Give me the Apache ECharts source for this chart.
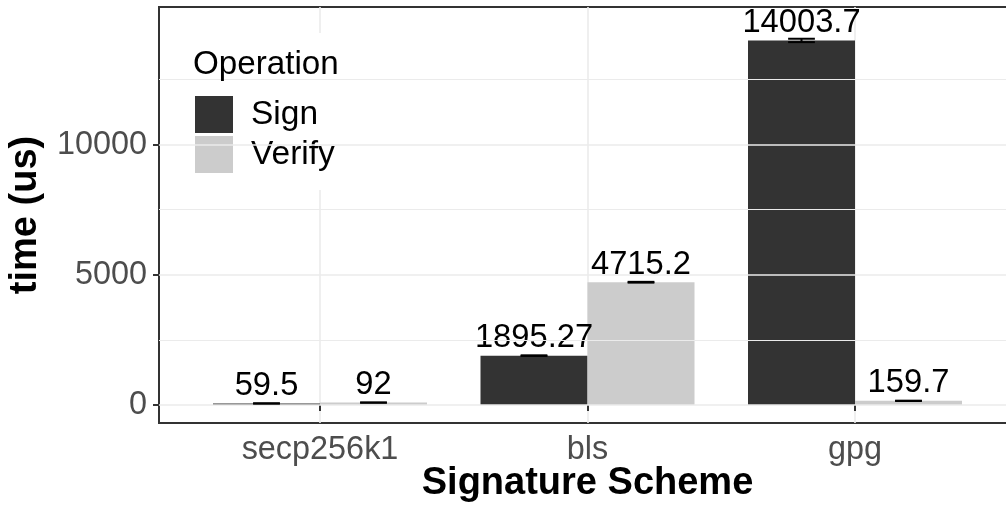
<!DOCTYPE html>
<html>
<head>
<meta charset="utf-8">
<script src="https://cdn.jsdelivr.net/npm/echarts@6/dist/echarts.min.js"></script>
<style>
  html, body { margin: 0; padding: 0; background: #fff; }
  #chart { width: 1006px; height: 506px; }
</style>
</head>
<body>
<div id="chart"></div>
<script>
// data
const schemes = ['secp256k1', 'bls', 'gpg']
const signTimes = [59.5, 1895.27, 14003.7]
const verifyTimes = [92, 4715.2, 159.7]
// error bar half-heights (estimated, mostly tiny)
const signErr = [3, 12, 65]
const verifyErr = [4, 15, 6]
const majorTicks = [0, 5000, 10000]
const minorTicks = [2500, 7500, 12500]

const yMin = -692
const yMax = 15288
const font = 'Liberation Sans, Arial, Helvetica, sans-serif'

const chart = echarts.init(document.getElementById('chart'))

// error bars drawn at the dodged bar centres
function errorBars(values, errs, side) {
    return {
        type: 'custom',
        xAxisIndex: 1,
        yAxisIndex: 1,
        z: 5,
        clip: false,
        silent: true,
        data: values.map((v, i) => [i, v, errs[i]]),
        renderItem: function (params, api) {
            const i = api.value(0)
            const v = api.value(1)
            const e = api.value(2)
            const band = api.size([1, 0])[0]
            const x = api.coord([i, v])[0] + side * band * 0.2
            const half = band * 0.05
            const top = api.coord([i, v + e])[1]
            const bot = api.coord([i, v - e])[1]
            const style = { stroke: '#000', lineWidth: 2 }
            return {
                type: 'group',
                children: [
                    { type: 'line', shape: { x1: x, y1: top, x2: x, y2: bot }, style },
                    { type: 'line', shape: { x1: x - half, y1: top, x2: x + half, y2: top }, style },
                    { type: 'line', shape: { x1: x - half, y1: bot, x2: x + half, y2: bot }, style }
                ]
            }
        }
    }
}

const barLabel = {
    show: true,
    position: 'top',
    distance: 1,
    fontSize: 32.7,
    color: '#000',
    fontFamily: font
}

const option = {
    animation: false,
    backgroundColor: '#fff',
    textStyle: { fontFamily: font },
    grid: [
        // panel (border + y axis)
        { left: 159, top: 7, width: 860, height: 416, outerBoundsMode: 'none', show: true, borderColor: '#333', borderWidth: 2, backgroundColor: 'transparent' },
        // bars, categories spaced like ggplot's discrete axis
        { left: 320, top: 7, width: 535, height: 416, outerBoundsMode: 'none' }
    ],
    xAxis: [
        { gridIndex: 0, type: 'value', min: 0, max: 1, show: false },
        {
            gridIndex: 1,
            type: 'category',
            data: schemes,
            boundaryGap: false,
            axisLine: { show: false },
            axisTick: { show: true, length: 6, lineStyle: { color: '#333', width: 2 } },
            axisLabel: { interval: 0, fontSize: 32.4, color: '#4D4D4D', margin: 11, fontFamily: font },
            splitLine: { show: true, lineStyle: { color: '#EBEBEB', width: 1.6 } },
            name: 'Signature Scheme',
            nameLocation: 'middle',
            nameGap: 42,
            nameMoveOverlap: false,
            nameTextStyle: { fontSize: 38, fontWeight: 'bold', color: '#000', fontFamily: font }
        }
    ],
    yAxis: [
        {
            gridIndex: 0,
            type: 'value',
            min: yMin,
            max: yMax,
            axisLine: { show: false },
            axisTick: { show: true, length: 6, customValues: majorTicks, lineStyle: { color: '#333', width: 2 } },
            axisLabel: { customValues: majorTicks, formatter: v => String(v), fontSize: 32.4, color: '#4D4D4D', margin: 12, fontFamily: font },
            splitLine: { show: false },
            name: 'time (us)',
            nameLocation: 'middle',
            nameRotate: 90,
            nameGap: 114,
            nameMoveOverlap: false,
            nameTextStyle: { fontSize: 38, fontWeight: 'bold', color: '#000', fontFamily: font }
        },
        { gridIndex: 1, type: 'value', min: yMin, max: yMax, show: false }
    ],
    title: {
        text: 'Operation',
        left: 193,
        top: 48,
        padding: 0,
        textStyle: { fontSize: 33.2, fontWeight: 'normal', color: '#000', fontFamily: font }
    },
    legend: {
        data: ['Sign', 'Verify'],
        orient: 'vertical',
        left: 195,
        top: 96,
        padding: 0,
        itemWidth: 38,
        itemHeight: 37,
        itemGap: 3,
        icon: 'rect',
        selectedMode: false,
        textStyle: { fontSize: 33.5, color: '#000', padding: [0, 0, 0, 13], fontFamily: font }
    },
    graphic: [
        { type: 'rect', z: 3, shape: { x: 180, y: 33, width: 173, height: 157 }, style: { fill: '#fff' }, silent: true }
    ],
    series: [
        {
            // panel grid lines
            type: 'line',
            xAxisIndex: 0,
            yAxisIndex: 0,
            data: [[0.5, 0]],
            symbol: 'none',
            lineStyle: { width: 0 },
            silent: true,
            z: 1,
            markLine: {
                silent: true,
                symbol: 'none',
                label: { show: false },
                data: majorTicks.map(v => ({ yAxis: v, lineStyle: { color: '#EBEBEB', width: 1.6, type: 'solid' } }))
                    .concat(minorTicks.map(v => ({ yAxis: v, lineStyle: { color: '#EBEBEB', width: 1, type: 'solid' } })))
            }
        },
        {
            name: 'Sign',
            type: 'bar',
            xAxisIndex: 1,
            yAxisIndex: 1,
            data: signTimes,
            barWidth: 107,
            barGap: '0%',
            clip: false,
            z: 2,
            itemStyle: { color: '#333333' },
            label: barLabel
        },
        {
            name: 'Verify',
            type: 'bar',
            xAxisIndex: 1,
            yAxisIndex: 1,
            data: verifyTimes,
            barWidth: 107,
            barGap: '0%',
            clip: false,
            z: 2,
            itemStyle: { color: '#CCCCCC' },
            label: barLabel
        },
        errorBars(signTimes, signErr, -1),
        errorBars(verifyTimes, verifyErr, 1)
    ]
}

chart.setOption(option)
</script>
</body>
</html>
